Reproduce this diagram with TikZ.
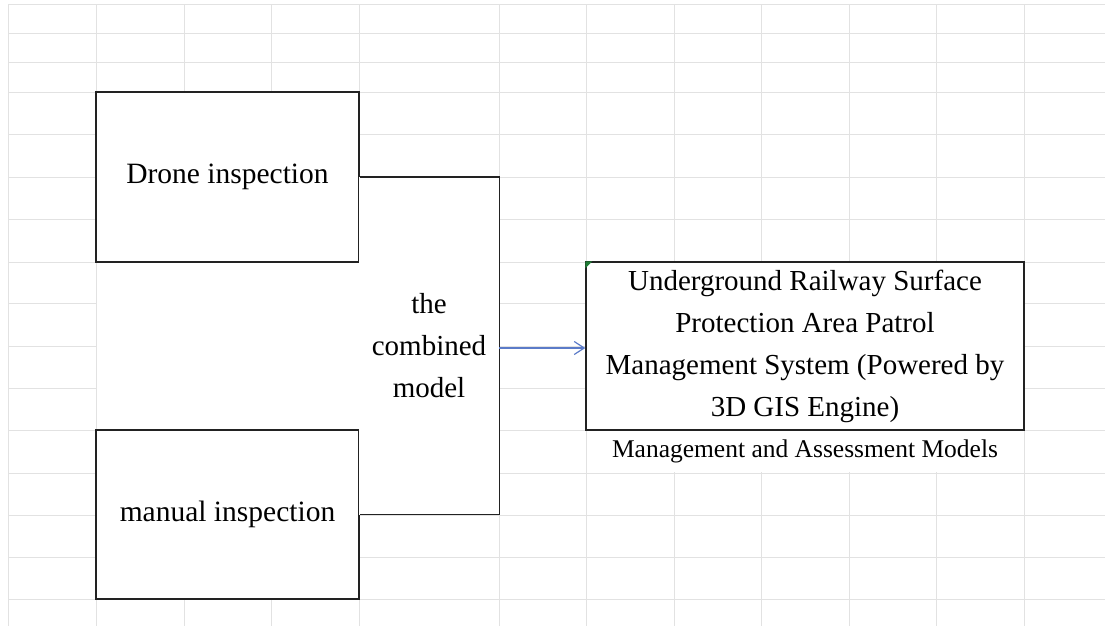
\documentclass[tikz,border=0pt]{standalone}
\usepackage{fontspec}
\setmainfont{Liberation Serif}
\usetikzlibrary{arrows.meta,positioning}

\definecolor{gridgray}{HTML}{E2E2E2}
\definecolor{boxline}{HTML}{222222}
\definecolor{flowblue}{HTML}{5B7BC8}
\definecolor{markgreen}{HTML}{1E7B34}

\tikzset{
  cell/.style={draw=boxline, line width=1.4pt, fill=white, inner sep=0pt,
    align=center, font=\fontsize{29.5}{42}\selectfont},
  gridline/.style={draw=gridgray, line width=1pt},
  flow/.style={draw=flowblue, line width=1.2pt, -{Straight Barb[length=10pt,width=13pt]}}
}

\begin{document}
\begin{tikzpicture}[x=1pt,y=-1pt]
\useasboundingbox (0,0) rectangle (1105,626);

% sheet grid
\foreach \gx in {8,96,184,271,359,499,586,674,761,849,936,1024}
  \draw[gridline] (\gx,5) -- (\gx,626);
\foreach \gy in {5,34,63,92,134,177,219,262,303,346,388,430,473,515,557,599}
  \draw[gridline] (8,\gy) -- (1105,\gy);

% merged cells
\fill[white] (97,261) rectangle (360,431);

% nodes
\node[cell, minimum width=263pt, minimum height=170pt] (drone) at (227.5,177) {Drone inspection};
\node[cell, minimum width=263pt, minimum height=169pt] (manual) at (227.5,514.5) {manual inspection};
\node[fill=white, inner sep=0pt, minimum width=140pt, minimum height=338pt,
  align=center, font=\fontsize{29}{42}\selectfont] (comb) at (429,346) {the\\combined\\model};
\node[cell, font=\fontsize{29}{42}\selectfont, minimum width=438pt, minimum height=168pt] (sys) at (805,346)
  {Underground Railway Surface\\Protection Area Patrol\\Management System (Powered by\\3D GIS Engine)};
\node[below=0pt of sys, fill=white, inner sep=0pt, minimum width=436pt, minimum height=41pt,
  font=\fontsize{25.5}{30}\selectfont] (label) {Management and Assessment Models};

% green corner mark
\fill[markgreen] (sys.north west) -- ++(7,0) -- ++(-7,7) -- cycle;

% connectors
\draw[boxline, line width=1.4pt, line join=miter] (drone.east) -- (drone.east -| comb.east)
  -- (manual.east -| comb.east) -- (manual.east);
\draw[flow] ([yshift=-2pt]comb.east) -- ([yshift=-2pt]sys.west);

\end{tikzpicture}
\end{document}
